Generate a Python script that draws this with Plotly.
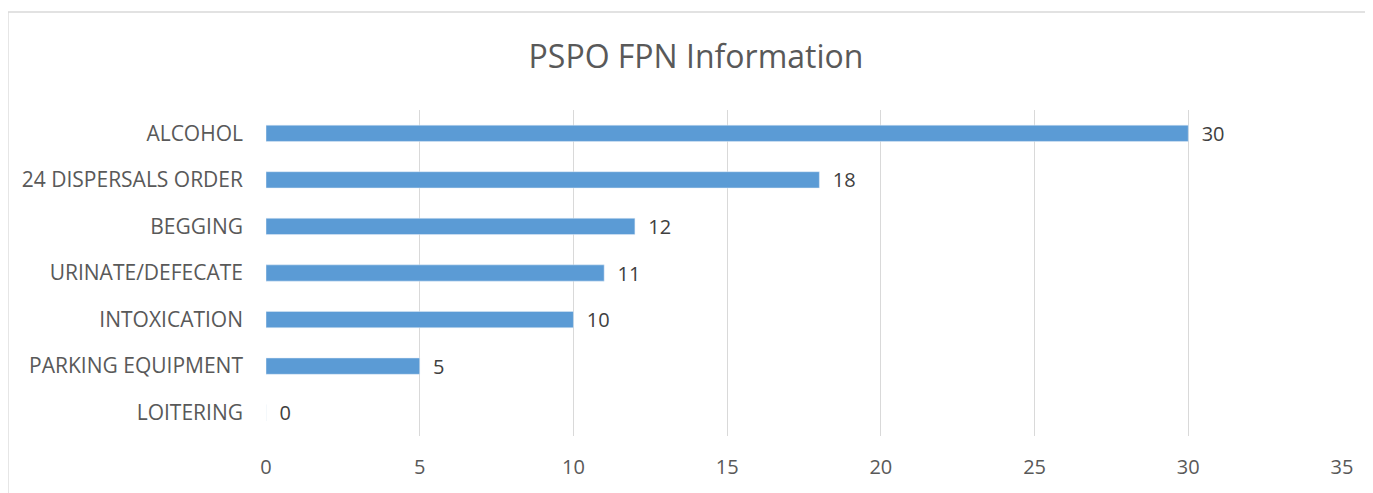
import plotly.graph_objects as go

# Data (top to bottom as shown in chart)
categories = ["ALCOHOL", "24 DISPERSALS ORDER", "BEGGING", "URINATE/DEFECATE",
              "INTOXICATION", "PARKING EQUIPMENT", "LOITERING"]
values = [30, 18, 12, 11, 10, 5, 0]
x_ticks = [0, 5, 10, 15, 20, 25, 30, 35]

font_family = "Open Sans, Liberation Sans, sans-serif"

fig = go.Figure(go.Bar(
    x=values,
    y=categories,
    orientation="h",
    marker_color="#5b9bd5",
    width=0.35,
    texttemplate="\u00a0\u00a0%{x}",
    textposition="outside",
    constraintext="none",
    textfont=dict(size=20, color="#404040", family=font_family),
    cliponaxis=False,
))

# page has an 8px body margin, so the figure is a bit smaller than the window
W, H = 1365, 485
OFF = 8
# plot area in window pixels: x 266..1342, y 110..436
L, R, T, B = 266 - OFF, 1342 - OFF, 110 - OFF, 436 - OFF

def px_to_paper_x(px):
    return (px - OFF - L) / (R - L)

def px_to_paper_y(py):
    return (B - (py - OFF)) / (B - T)

fig.update_layout(
    width=W, height=H,
    margin=dict(l=L, r=W - R, t=T, b=H - B),
    plot_bgcolor="white",
    paper_bgcolor="white",
    showlegend=False,
    font=dict(family=font_family, color="#595959", size=20),
    title=dict(text="PSPO FPN Information", x=(696 - OFF) / W, xanchor="center",
               y=1 - (57 - OFF) / H, yanchor="middle",
               font=dict(size=32, color="#595959", family=font_family)),
    xaxis=dict(range=[0, 35], tickvals=x_ticks, showgrid=True, gridcolor="#d9d9d9",
               gridwidth=1.3, zeroline=False, showline=False, ticks="",
               tickfont=dict(size=20, color="#595959"), ticklabelstandoff=17),
    yaxis=dict(autorange="reversed", showgrid=False, zeroline=False, showline=False,
               ticks="", tickfont=dict(size=21, color="#595959"), ticklabelstandoff=22),
    shapes=[dict(type="rect", xref="paper", yref="paper",
                 x0=px_to_paper_x(8), x1=px_to_paper_x(1371),
                 y0=px_to_paper_y(505), y1=px_to_paper_y(12),
                 line=dict(color="#d9d9d9", width=1.3), layer="below")],
)

fig.write_html("out.html")
